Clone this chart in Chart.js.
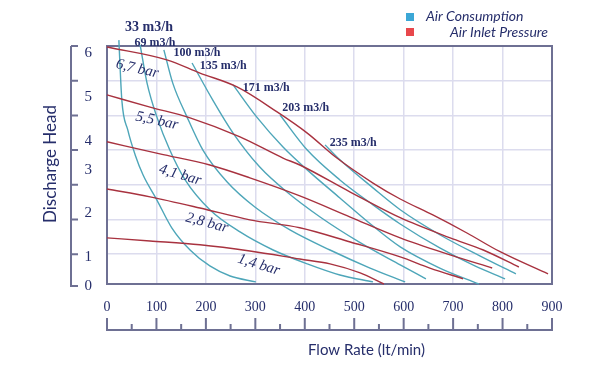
<!DOCTYPE html>
<html>
<head>
<meta charset="utf-8">
<script src="https://cdn.jsdelivr.net/npm/chart.js@4.4.1/dist/chart.umd.min.js"></script>
<style>
  html, body { margin: 0; padding: 0; background: #fff; }
</style>
</head>
<body>
<canvas id="pumpChart" width="600" height="373"></canvas>
<script>
// flow rate in lt/min, head in grid units (bottom of box = 0.14, top = 7)
const flowTicks = [0, 100, 200, 300, 400, 500, 600, 700, 800, 900];
const headLabels = ['0', '1', '2', '3', '4', '5', '6'];
const headLabelAt = [0.09, 0.92, 2.19, 3.43, 4.26, 5.53, 6.80];

// air inlet pressure curves
const pressureNames = ['6,7 bar', '5,5 bar', '4,1 bar', '2,8 bar', '1,4 bar'];
const bar67 = [[0, 6.97], [121, 6.60], [188, 6.22], [263, 5.82], [344, 5.10], [405, 4.49], [465, 3.77], [538, 3.05], [593, 2.59], [659, 2.13], [728, 1.61], [795, 1.07], [892, 0.43]];
const bar55 = [[0, 5.59], [87, 5.24], [168, 4.93], [269, 4.38], [356, 3.77], [390, 3.57], [492, 2.79], [593, 2.05], [694, 1.47], [761, 1.12], [833, 0.63]];
const bar41 = [[0, 4.24], [107, 3.89], [208, 3.57], [289, 3.20], [390, 2.68], [492, 2.07], [593, 1.47], [694, 0.98], [779, 0.60]];
const bar28 = [[0, 2.88], [87, 2.65], [188, 2.33], [289, 1.99], [390, 1.76], [492, 1.35], [593, 0.92], [653, 0.60], [720, 0.29]];
const bar14 = [[0, 1.47], [87, 1.38], [188, 1.27], [289, 1.09], [390, 0.86], [451, 0.72], [512, 0.46], [560, 0.14]];

// air consumption curves
const airNames = ['33 m3/h', '69 m3/h', '100 m3/h', '135 m3/h', '171 m3/h', '203 m3/h', '235 m3/h'];
const air33 = [[24, 7.17], [30, 5.44], [42, 4.58], [57, 3.86], [73, 3.28], [101, 2.56], [131, 1.76], [168, 1.12], [208, 0.66], [249, 0.37], [301, 0.20]];
const air69 = [[67, 7.03], [81, 5.93], [101, 4.95], [127, 4.00], [158, 3.14], [208, 2.28], [269, 1.64], [336, 1.12], [405, 0.72], [471, 0.40], [538, 0.20]];
const air100 = [[115, 6.89], [133, 5.93], [162, 4.95], [194, 4.00], [243, 3.08], [299, 2.36], [370, 1.70], [451, 1.12], [532, 0.60], [603, 0.20]];
const air135 = [[172, 6.51], [214, 5.44], [255, 4.49], [309, 3.51], [364, 2.79], [431, 2.07], [512, 1.33], [593, 0.69], [645, 0.29]];
const air171 = [[255, 5.88], [303, 4.95], [356, 4.09], [405, 3.43], [471, 2.62], [538, 1.81], [593, 1.21], [673, 0.60], [752, 0.14]];
const air203 = [[350, 5.01], [405, 4.00], [471, 3.14], [538, 2.42], [593, 1.87], [673, 1.18], [744, 0.66], [805, 0.29]];
const air235 = [[441, 4.15], [471, 3.72], [538, 2.91], [593, 2.28], [673, 1.56], [754, 0.95], [827, 0.43]];

const NAVY = '#262e6b';
const TEAL = '#4ea6b9';
const RED = '#a8323f';
const GRID = '#dcdcee';
const FRAME = '#6e7093';

const pressureCurves = [bar67, bar55, bar41, bar28, bar14];
const airCurves = [air33, air69, air100, air135, air171, air203, air235];

// where the curve names sit (x in lt/min, y in grid units, angle)
const pressureSpots = [[61, 6.34, 13], [101, 4.84, 12], [148, 3.28, 16], [202, 1.90, 15], [307, 0.69, 17]];
const airSpots = [[85, 7.55], [97, 7.09], [182, 6.80], [235, 6.42], [322, 5.79], [402, 5.21], [498, 4.21]];

const toPoints = pts => pts.map(([x, y]) => ({ x, y }));

const datasets = [
    ...pressureCurves.map((pts, i) => ({
        label: pressureNames[i],
        data: toPoints(pts),
        borderColor: RED
    })),
    ...airCurves.map((pts, i) => ({
        label: airNames[i],
        data: toPoints(pts),
        borderColor: TEAL
    }))
];

const decor = {
    id: 'decor',
    beforeDatasetsDraw(chart) {
        const { ctx, chartArea: a } = chart;
        ctx.save();
        ctx.strokeStyle = FRAME;
        ctx.lineWidth = 2;
        ctx.strokeRect(a.left, a.top, a.right - a.left, a.bottom - a.top);
        ctx.restore();
    },
    afterDraw(chart) {
        const { ctx, chartArea: a, scales: { x, y } } = chart;
        ctx.save();

        // detached axes with tick marks
        ctx.strokeStyle = FRAME;
        ctx.lineWidth = 2;
        ctx.beginPath();
        const ax = 71;
        ctx.moveTo(ax, a.top);
        ctx.lineTo(ax, a.bottom + 2);
        ctx.lineTo(ax + 7, a.bottom + 2);
        y.ticks.forEach(t => {
            if (t.value < 1) return;
            const py = y.getPixelForValue(t.value);
            ctx.moveTo(ax, py);
            ctx.lineTo(ax + 7, py);
        });
        const ay = 330;
        ctx.moveTo(a.left - 1, ay);
        ctx.lineTo(a.right + 1, ay);
        x.ticks.forEach((t, i) => {
            const px = x.getPixelForValue(t.value);
            ctx.moveTo(px, ay);
            ctx.lineTo(px, ay - 12);
            const next = x.ticks[i + 1];
            if (next) {
                const mid = x.getPixelForValue((t.value + next.value) / 2);
                ctx.moveTo(mid, ay);
                ctx.lineTo(mid, ay - 6);
            }
        });
        ctx.stroke();

        // axis titles
        ctx.fillStyle = NAVY;
        ctx.font = '15px Lato';
        ctx.textAlign = 'left';
        ctx.textBaseline = 'middle';
        ctx.fillText('Flow Rate (lt/min)', 308, 350);
        ctx.save();
        ctx.translate(51, 164);
        ctx.rotate(-Math.PI / 2);
        ctx.textAlign = 'center';
        ctx.font = '17px Lato';
        ctx.fillText('Discharge Head', 0, 0);
        ctx.restore();

        // legend
        ctx.fillStyle = '#3ba7d6';
        ctx.fillRect(406, 13, 8, 8);
        ctx.fillStyle = '#e8474c';
        ctx.fillRect(406, 28, 8, 8);
        ctx.fillStyle = NAVY;
        ctx.font = 'italic 14px Lato';
        ctx.fillText('Air Consumption', 426, 16);
        ctx.fillText('Air Inlet Pressure', 450, 32);

        // curve names
        ctx.textAlign = 'center';
        airNames.forEach((name, i) => {
            const [fx, fy] = airSpots[i];
            ctx.font = (i === 0 ? 'bold 14px' : 'bold 12px') + ' "Liberation Serif"';
            ctx.fillText(name, x.getPixelForValue(fx), y.getPixelForValue(fy));
        });
        ctx.font = 'italic 15px "Liberation Serif"';
        pressureNames.forEach((name, i) => {
            const [fx, fy, deg] = pressureSpots[i];
            ctx.save();
            ctx.translate(x.getPixelForValue(fx), y.getPixelForValue(fy));
            ctx.rotate(deg * Math.PI / 180);
            ctx.fillText(name, 0, 0);
            ctx.restore();
        });
        ctx.restore();
    }
};

const tickFont = { family: 'Liberation Serif', size: 14 };

new Chart(document.getElementById('pumpChart'), {
    type: 'line',
    data: { datasets },
    options: {
        responsive: false,
        animation: false,
        devicePixelRatio: 1,
        layout: { padding: { left: 85, right: 48, top: 46, bottom: 59 } },
        elements: {
            point: { radius: 0 },
            line: { borderWidth: 1.4, cubicInterpolationMode: 'monotone', fill: false }
        },
        datasets: { line: { clip: false } },
        plugins: {
            legend: { display: false },
            tooltip: { enabled: false }
        },
        scales: {
            x: {
                type: 'linear',
                min: flowTicks[0],
                max: flowTicks[flowTicks.length - 1],
                afterBuildTicks: axis => { axis.ticks = flowTicks.map(v => ({ value: v })); },
                ticks: { padding: 15, font: tickFont, color: NAVY, autoSkip: false, maxRotation: 0 },
                grid: { color: GRID, lineWidth: 1.5, drawTicks: false },
                border: { display: false },
                afterFit: s => { s.height = 30; }
            },
            y: {
                type: 'linear',
                position: 'left',
                min: 0.14,
                max: 7,
                ticks: { display: false, stepSize: 1 },
                grid: { color: GRID, lineWidth: 1.5, drawTicks: false },
                border: { display: false }
            },
            yl: {
                type: 'linear',
                position: 'left',
                min: 0.14,
                max: 7,
                afterBuildTicks: axis => { axis.ticks = headLabelAt.map(v => ({ value: v })); },
                ticks: {
                    callback: (v, i) => headLabels[i],
                    padding: 15,
                    font: { family: 'Liberation Serif', size: 15 },
                    color: NAVY,
                    autoSkip: false
                },
                grid: { display: false, drawTicks: false },
                border: { display: false },
                afterFit: s => { s.width = 22; }
            }
        }
    },
    plugins: [decor]
});
</script>
</body>
</html>
